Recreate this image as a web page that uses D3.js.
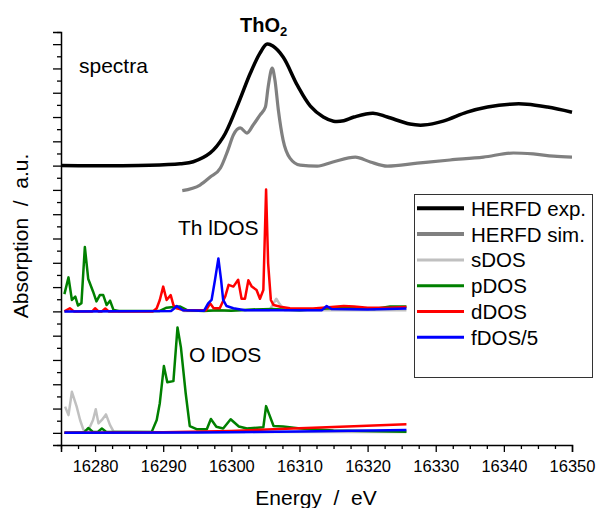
<!DOCTYPE html>
<html>
<head>
<meta charset="utf-8">
<script src="https://cdn.jsdelivr.net/npm/d3@7"></script>
<style>
  body { margin: 0; background: #fff; }
  text { font-family: "Liberation Sans", Arial, sans-serif; }
</style>
</head>
<body>
<div id="chart"></div>
<script>
// HERFD experiment and simulation (intensity above baseline)
var expE = [16275, 16288, 16292.5, 16294.4, 16296.9, 16298.8, 16300.8, 16302.8, 16304.2, 16305.2, 16306.1, 16307.6, 16309.7, 16311.6, 16313.5, 16315, 16316.5, 16318, 16320.8, 16322.9, 16326.2, 16328.2, 16331.1, 16334.6, 16337.6, 16340.9, 16343.4, 16346.4, 16350];
var expI = [0, 0.02, 0.08, 0.16, 0.52, 1.17, 2.41, 3.81, 4.63, 5.0, 4.92, 4.47, 3.3, 2.45, 2.0, 1.83, 1.85, 2.0, 2.16, 2.0, 1.71, 1.67, 1.83, 2.2, 2.41, 2.53, 2.53, 2.41, 2.2];
var simE = [16292.8, 16295.4, 16296.9, 16298.4, 16299.5, 16300.3, 16301.3, 16302.3, 16303.2, 16304.2, 16305.0, 16305.4, 16306.0, 16306.4, 16306.9, 16307.6, 16308.6, 16310.1, 16312.6, 16314.9, 16318.2, 16320.4, 16322.9, 16327.3, 16332.1, 16337.0, 16341.4, 16344.3, 16347.3, 16350];
var simI = [-1.03, -0.8, -0.47, -0.1, 0.64, 1.26, 1.55, 1.34, 1.67, 2.08, 2.41, 3.23, 4.01, 3.52, 2.29, 1.05, 0.31, 0.02, -0.02, 0.15, 0.35, 0.15, -0.02, 0.1, 0.23, 0.35, 0.52, 0.48, 0.39, 0.35];

// Th lDOS
var thSE = [16275.5, 16291, 16292, 16293, 16305.6, 16306.6, 16307.1, 16307.8, 16325.7];
var thSI = [0, 0.02, 0.15, 0.02, 0.05, 0.52, 0.3, 0.05, 0.05];
var thPE = [16275.5, 16276.1, 16276.6, 16277.1, 16277.5, 16278.0, 16278.5, 16279.0, 16279.7, 16280.2, 16280.7, 16281.2, 16281.7, 16282.2, 16282.7, 16283.5, 16289.5, 16290.5, 16291.5, 16292.5, 16293.5, 16296, 16298, 16300, 16303, 16306, 16310, 16314, 16318, 16321, 16323.3, 16325.7];
var thPI = [0.71, 1.4, 0.47, 0.61, 0.24, 0.34, 2.65, 1.33, 0.82, 0.41, 0.67, 0.67, 0.26, 0.44, 0.06, 0.02, 0.02, 0.15, 0.18, 0.2, 0.05, 0.02, 0.05, 0.03, 0.08, 0.1, 0.05, 0.12, 0.15, 0.1, 0.2, 0.2];
var thDE = [16275.5, 16276.3, 16276.9, 16279.6, 16280.0, 16280.5, 16281.0, 16281.5, 16282.0, 16288.5, 16289.05, 16289.5, 16290.0, 16290.5, 16291.1, 16291.5, 16292.0, 16293.0, 16296.3, 16296.9, 16297.4, 16298.3, 16299.1, 16299.6, 16300.3, 16301.0, 16301.5, 16302.0, 16302.5, 16303.0, 16303.7, 16304.2, 16304.7, 16305.1, 16305.4, 16305.8, 16306.2, 16307.2, 16308.6, 16312, 16316.5, 16318, 16320, 16323, 16325.7];
var thDI = [0, 0.13, 0, 0, 0.13, 0, 0, 0.12, 0, 0, 0.13, 0.47, 1.02, 0.47, 0.67, 0.26, 0.13, 0.05, 0.05, 0.33, 0.13, 0.13, 0.61, 1.09, 1.02, 1.3, 0.52, 0.52, 1.28, 1.02, 0.88, 0.52, 0.88, 5.02, 1.98, 0.47, 0.26, 0.19, 0.13, 0.12, 0.22, 0.2, 0.15, 0.15, 0.18];
var thFE = [16275.5, 16291.2, 16292.0, 16292.9, 16296.0, 16296.6, 16297.1, 16297.6, 16298.1, 16298.5, 16298.8, 16299.3, 16300.3, 16302, 16313.3, 16314.0, 16314.7, 16320, 16325.7];
var thFI = [0, 0.02, 0.22, 0.05, 0.03, 0.33, 0.47, 1.29, 2.18, 1.29, 0.47, 0.22, 0.13, 0.05, 0.05, 0.22, 0.1, 0.08, 0.12];

// O lDOS
var oSE = [16275.6, 16276.1, 16276.6, 16277.3, 16277.8, 16278.3, 16279.0, 16279.7, 16280.1, 16280.5, 16281.0, 16281.6, 16282.2, 16282.7, 16290, 16302, 16302.6, 16303.2, 16325.7];
var oSI = [1.08, 0.73, 1.69, 1.08, 0.53, 0.12, 0.1, 0.53, 0.97, 0.39, 0.53, 0.76, 0.32, 0.06, 0.02, 0.04, 0.2, 0.04, 0.04];
var oPE = [16275.5, 16278.4, 16279.0, 16279.7, 16280.4, 16281.0, 16281.7, 16288.3, 16289.05, 16289.5, 16290.1, 16290.6, 16291.5, 16292.1, 16292.6, 16293.3, 16293.9, 16294.9, 16296.4, 16297.0, 16297.8, 16298.8, 16299.9, 16301.1, 16302.3, 16304.7, 16305.1, 16305.6, 16306.2, 16307.6, 16310.1, 16315, 16325.7];
var oPI = [0, 0.02, 0.2, 0.04, 0.04, 0.18, 0.03, 0.03, 0.53, 1.22, 2.75, 2.08, 2.13, 4.34, 3.52, 1.63, 0.28, 0.15, 0.15, 0.57, 0.25, 0.18, 0.56, 0.26, 0.18, 0.23, 1.1, 0.73, 0.28, 0.26, 0.18, 0.1, 0.05];
var oDE = [16275.5, 16290, 16300, 16310, 16318, 16325.7];
var oDI = [0, 0.02, 0.08, 0.19, 0.27, 0.35];
var oFE = [16275.5, 16295, 16310, 16325.7];
var oFI = [0, 0.01, 0.06, 0.12];

var xTicks = [16280, 16290, 16300, 16310, 16320, 16330, 16340, 16350];
var legendNames = ["HERFD exp.", "HERFD sim.", "sDOS", "pDOS", "dDOS", "fDOS/5"];
var legendColors = ["#000000", "#808080", "#c0c0c0", "#008000", "#ff0000", "#0000ff"];

// vertical offsets of the three panels
var offSpectra = 11, offTh = 5, offO = 0;

var width = 598, height = 508;
var svg = d3.select("#chart").append("svg")
  .attr("width", width).attr("height", height);

var xScale = d3.scaleLinear().domain([16275, 16350]).range([61, 572]);
var yScale = d3.scaleLinear().domain([-0.5, 16.5]).range([445, 32]);

function pts(E, I, off) {
  return E.map((e, i) => ({ e: e, v: I[i] + off }));
}

var lineLin = d3.line().x(d => xScale(d.e)).y(d => yScale(d.v));
var lineMono = d3.line().x(d => xScale(d.e)).y(d => yScale(d.v)).curve(d3.curveMonotoneX);
var lineSmooth = d3.line().x(d => xScale(d.e)).y(d => yScale(d.v)).curve(d3.curveCatmullRom.alpha(0.5));

var series = [
  { d: pts(oSE, oSI, offO), c: legendColors[2], w: 2.5, l: lineLin },
  { d: pts(oPE, oPI, offO), c: legendColors[3], w: 2.5, l: lineLin },
  { d: pts(oDE, oDI, offO), c: legendColors[4], w: 2.5, l: lineLin },
  { d: pts(oFE, oFI, offO), c: legendColors[5], w: 2.5, l: lineLin },
  { d: pts(thSE, thSI, offTh), c: legendColors[2], w: 2.5, l: lineLin },
  { d: pts(thPE, thPI, offTh), c: legendColors[3], w: 2.5, l: lineLin },
  { d: pts(thDE, thDI, offTh), c: legendColors[4], w: 2.5, l: lineLin },
  { d: pts(thFE, thFI, offTh), c: legendColors[5], w: 2.5, l: lineLin },
  { d: pts(simE, simI, offSpectra), c: legendColors[1], w: 3.2, l: lineMono },
  { d: pts(expE, expI, offSpectra), c: legendColors[0], w: 3.5, l: lineSmooth }
];

svg.append("g").selectAll("path")
  .data(series).join("path")
  .attr("d", s => s.l(s.d))
  .attr("fill", "none")
  .attr("stroke", s => s.c)
  .attr("stroke-width", s => s.w)
  .attr("stroke-linejoin", "round");

/* Axes */
var xMinor = d3.range(16275, 16350.1, 2.5).filter(t => xTicks.indexOf(t) < 0);
var xAxis = d3.axisBottom(xScale).tickValues(xTicks).tickSize(7).tickFormat(d3.format("d"));
var xAxisMinor = d3.axisBottom(xScale).tickValues(xMinor).tickSize(4).tickFormat("");

var gx = svg.append("g").attr("transform", "translate(0,445)").call(xAxis);
svg.append("g").attr("transform", "translate(0,445)").call(xAxisMinor).select(".domain").remove();
gx.selectAll("text").attr("font-size", "16.5px").attr("dy", "1.05em").attr("fill", "#000")
  .style("font-family", "'Liberation Sans', Arial, sans-serif");

var yMajor = d3.range(0, 16.1, 1);
var yMinor = d3.range(-0.5, 16.6, 1);
var yAxis = d3.axisLeft(yScale).tickValues(yMajor).tickSize(8).tickFormat("");
var yAxisMinor = d3.axisLeft(yScale).tickValues(yMinor).tickSize(4).tickFormat("");
svg.append("g").attr("transform", "translate(61,0)").call(yAxis);
svg.append("g").attr("transform", "translate(61,0)").call(yAxisMinor).select(".domain").remove();

svg.selectAll(".domain").attr("stroke-width", 1.5).attr("stroke", "#000");
svg.selectAll(".tick line").attr("stroke-width", 1.3).attr("stroke", "#000");

/* Labels */
svg.append("text")
  .attr("x", 316).attr("y", 505)
  .attr("text-anchor", "middle")
  .attr("font-size", "21px")
  .style("white-space", "pre")
  .text("Energy  /  eV");

svg.append("text")
  .attr("transform", "translate(28,236) rotate(-90)")
  .attr("text-anchor", "middle")
  .attr("font-size", "21px")
  .style("white-space", "pre")
  .text("Absorption  /  a.u.");

var title = svg.append("text")
  .attr("x", 240).attr("y", 32)
  .attr("font-size", "20px").attr("font-weight", "bold");
title.append("tspan").text("ThO");
title.append("tspan").attr("font-size", "13px").attr("dy", 4).text("2");

svg.append("text").attr("x", 79).attr("y", 73).attr("font-size", "21px").text("spectra");
svg.append("text").attr("x", 178).attr("y", 235).attr("font-size", "21px").text("Th lDOS");
svg.append("text").attr("x", 189).attr("y", 362).attr("font-size", "21px").text("O lDOS");

/* Legend */
var legend = svg.append("g");
legend.append("rect")
  .attr("x", 414.5).attr("y", 194.5).attr("width", 178).attr("height", 183)
  .attr("fill", "#fff").attr("stroke", "#333").attr("stroke-width", 1);

var items = legend.selectAll(".item")
  .data(legendNames).join("g")
  .attr("class", "item")
  .attr("transform", (d, i) => "translate(0," + (208.3 + i * 25.8) + ")");

items.append("line")
  .attr("x1", 417).attr("x2", 464)
  .attr("stroke", (d, i) => legendColors[i])
  .attr("stroke-width", (d, i) => i < 2 ? 4 : 3);

items.append("text")
  .attr("x", 471).attr("y", 7.5)
  .attr("font-size", "20.5px")
  .text(d => d);
</script>
</body>
</html>
